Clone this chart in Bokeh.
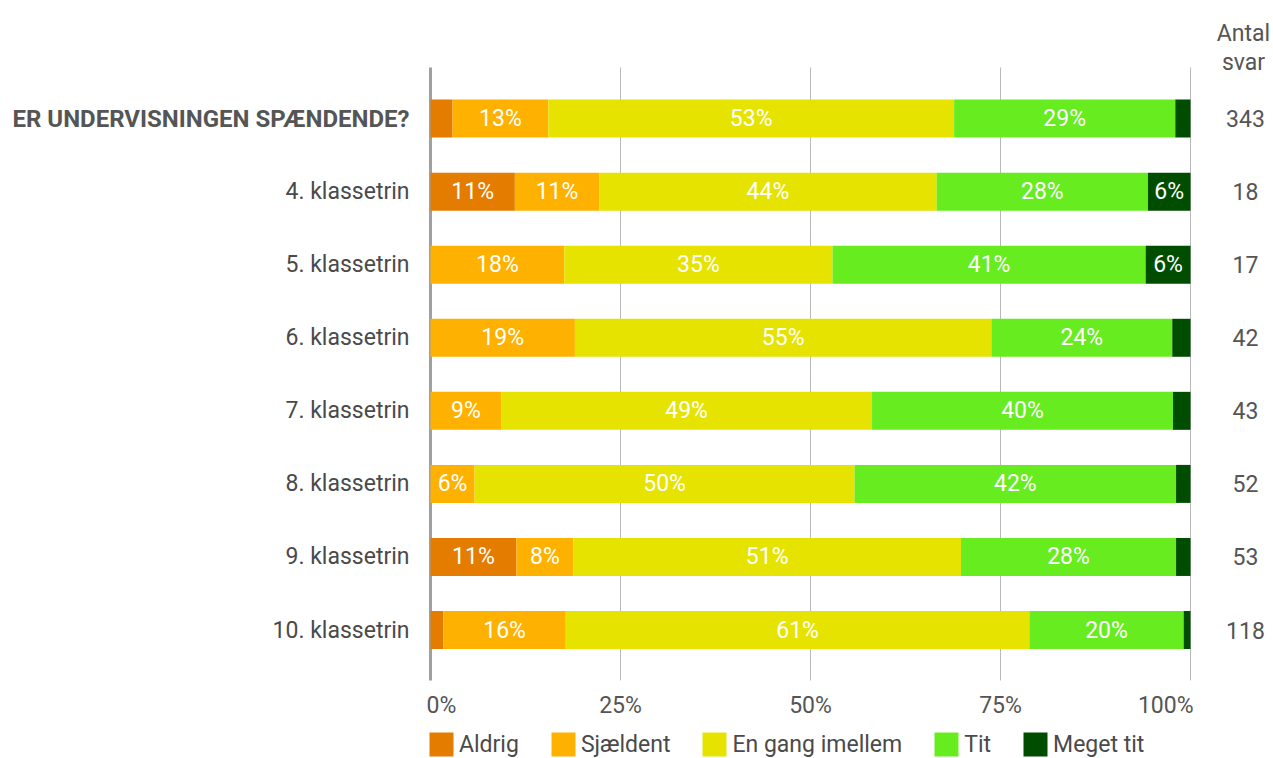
import math
import numpy as np
from bokeh.plotting import figure
from bokeh.models import ColumnDataSource, Range1d
from bokeh.core.properties import value
from bokeh.embed import file_html
from bokeh.resources import INLINE

# ---------------- data ----------------
categories = ["ER UNDERVISNINGEN SPÆNDENDE?", "4. klassetrin", "5. klassetrin", "6. klassetrin",
              "7. klassetrin", "8. klassetrin", "9. klassetrin", "10. klassetrin"]
series_names = ["Aldrig", "Sjældent", "En gang imellem", "Tit", "Meget tit"]
aldrig = [2.9, 11.1, 0.0, 0.0, 0.0, 0.0, 11.3, 1.7]
sjaeldent = [12.6, 11.1, 17.6, 19.0, 9.3, 5.8, 7.5, 16.1]
en_gang = [53.4, 44.4, 35.3, 54.8, 48.8, 50.0, 51.0, 61.0]
tit = [29.1, 27.8, 41.2, 23.8, 39.6, 42.3, 28.3, 20.3]
meget_tit = [2.0, 5.6, 5.9, 2.4, 2.3, 1.9, 1.9, 0.9]
antal_svar = [343, 18, 17, 42, 43, 52, 53, 118]
tick_values = [0, 25, 50, 75, 100]
tick_labels = ["0%", "25%", "50%", "75%", "100%"]

colors = ["#e47c00", "#ffb100", "#e6e300", "#66ec1f", "#004d00"]
keys = ["aldrig", "sjaeldent", "en_gang", "tit", "meget_tit"]
series = [aldrig, sjaeldent, en_gang, tit, meget_tit]

FONT = value("Roboto")
FS = "23px"
TXT = "#4a4a4a"

W, H = 1273, 758
# plotting area geometry (pixels): 0% at x=430, 100% at x=1190; row 0 at y=118, row step 73.06
PX_PER_X = 7.6
X0_PX = 430
ROW_PX = 73.06
ROW0_PX = 118.1

n = len(categories)
ys = list(range(n))
y_top, y_bot = -0.70, n - 1 + 0.69

src = ColumnDataSource(dict(y=ys, **{k: s for k, s in zip(keys, series)}))

p = figure(width=W, height=H, output_backend="svg", toolbar_location=None,
           x_range=Range1d(-X0_PX / PX_PER_X, (W - X0_PX) / PX_PER_X),
           y_range=Range1d((H - ROW0_PX) / ROW_PX, -ROW0_PX / ROW_PX),
           x_axis_location=None, y_axis_location=None,
           min_border=0, outline_line_color=None)
p.xgrid.visible = False
p.ygrid.visible = False

# grid lines and zero line
gx = tick_values[1:]
p.segment(x0=gx, y0=[y_top] * len(gx), x1=gx, y1=[y_bot] * len(gx),
          line_color="#b9b9b9", line_width=1)
p.segment(x0=[0], y0=[y_top], x1=[0], y1=[y_bot], line_color="#a0a0a0", line_width=3)

p.hbar_stack(keys, y="y", height=0.52, color=colors, line_color=None, source=src,
             legend_label=series_names)

# in-bar percentage labels
arr = np.array(series)
cum = np.cumsum(arr, axis=0)
lx, ly, lt = [], [], []
for j in range(arr.shape[0]):
    for i in range(n):
        v = arr[j, i]
        if v >= 4.5:
            lx.append(cum[j, i] - v / 2)
            ly.append(i)
            lt.append(f"{int(math.floor(v + 0.5))}%")
p.text(x=lx, y=ly, text=lt, text_align="center", text_baseline="middle",
       text_color="white", text_font=FONT, text_font_size=FS)

# category labels
p.text(x=[0], y=[0], text=categories[:1], x_offset=-21, text_align="right", text_baseline="middle",
       text_font=FONT, text_font_size="24px", text_font_style="bold", text_color="#555555")
p.text(x=[0] * (n - 1), y=ys[1:], text=categories[1:], x_offset=-21, text_align="right",
       text_baseline="middle", text_font=FONT, text_font_size=FS, text_color=TXT)

# counts + header
p.text(x=[100] * n, y=ys, text=[str(c) for c in antal_svar], x_offset=55, text_align="center",
       text_baseline="middle", text_font=FONT, text_font_size=FS, text_color="#555555")
p.text(x=[100, 100], y=[y_top - 0.463, y_top - 0.066], text=["Antal", "svar"], x_offset=53,
       text_align="center", text_baseline="alphabetic", text_font=FONT, text_font_size=FS,
       text_color="#555555")

# x tick labels
ty = y_bot + 0.34
p.text(x=tick_values[:1], y=[ty], text=tick_labels[:1], x_offset=-4, text_align="left",
       text_baseline="middle", text_font=FONT, text_font_size=FS, text_color="#555555")
p.text(x=tick_values[1:-1], y=[ty] * 3, text=tick_labels[1:-1], text_align="center",
       text_baseline="middle", text_font=FONT, text_font_size=FS, text_color="#555555")
p.text(x=tick_values[-1:], y=[ty], text=tick_labels[-1:], x_offset=3, text_align="right",
       text_baseline="middle", text_font=FONT, text_font_size=FS, text_color="#555555")

lg = p.legend[0]
lg.orientation = "horizontal"
lg.location = (X0_PX - 4, -1)
lg.label_text_font = "Roboto"
lg.label_text_font_size = FS
lg.label_text_color = TXT
lg.glyph_width = 30
lg.glyph_height = 30
lg.label_standoff = 3
lg.spacing = 29
lg.padding = 0
lg.margin = 0
lg.border_line_color = None
lg.background_fill_alpha = 0

open("out.html", "w").write(file_html(p, INLINE))
